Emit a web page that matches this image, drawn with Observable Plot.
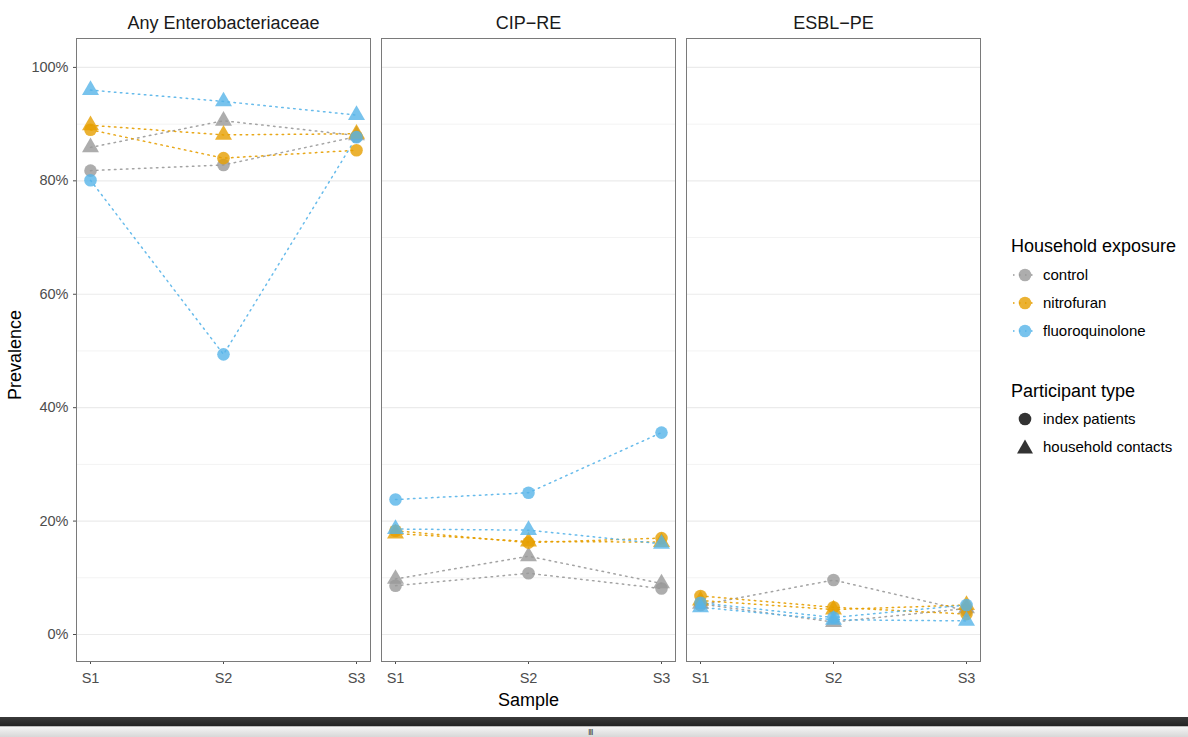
<!DOCTYPE html>
<html>
<head>
<meta charset="utf-8">
<script src="https://cdn.jsdelivr.net/npm/d3@7"></script>
<script src="https://cdn.jsdelivr.net/npm/@observablehq/plot@0.6"></script>
<style>
  body { margin: 0; background: #fff; font-family: "Liberation Sans", Arial, sans-serif; }
  #wrap { position: relative; width: 1188px; height: 737px; overflow: hidden; background: #fff; }
  #chart { position: absolute; left: 0; top: 0; }
  #legend { position: absolute; left: 0; top: 0; width: 1188px; height: 715px; pointer-events: none; }
  .lg-title { position: absolute; font-size: 18px; color: #000; line-height: 20px; white-space: nowrap; }
  .lg-item { position: absolute; font-size: 15px; color: #000; line-height: 20px; white-space: nowrap; display: flex; align-items: center; }
  .lg-item svg { margin-right: 5px; }
  #bar1 { position: absolute; left: 0; top: 717px; width: 1188px; height: 9px; background: linear-gradient(#3a3a3a, #222); }
  #bar2 { position: absolute; left: 0; top: 726px; width: 1188px; height: 11px; background: linear-gradient(#f4f4f4, #d8d8d8); border-top: 1px solid #bbb; box-sizing: border-box; }
  #bar2 span { position: absolute; left: 588px; top: 0px; font-size: 9px; color: #444; letter-spacing: -1px; line-height: 10px; }
</style>
</head>
<body>
<div id="wrap">
  <div id="chart"></div>
  <div id="legend"></div>
  <div id="bar1"></div>
  <div id="bar2"><span>III</span></div>
</div>
<script>
// ---------- data ----------
const panels = ["Any Enterobacteriaceae", "CIP\u2212RE", "ESBL\u2212PE"];
const samples = ["S1", "S2", "S3"];
const exposures = ["control", "nitrofuran", "fluoroquinolone"];
const participantTypes = ["index patients", "household contacts"];
const exposureColors = ["#999999", "#E69F00", "#56B4E9"];
const yTicks = [0, 0.2, 0.4, 0.6, 0.8, 1.0];
const yMinorTicks = [0.1, 0.3, 0.5, 0.7, 0.9];

// prevalence (%) rows: control, nitrofuran, fluoroquinolone; columns: S1, S2, S3
const anyIndex    = [[81.8, 82.8, 87.8], [89.0, 84.0, 85.4], [80.1, 49.4, 87.7]];
const anyContacts = [[85.9, 90.6, 88.0], [89.8, 88.1, 88.3], [96.0, 94.0, 91.6]];
const cipIndex    = [[8.6, 10.8, 8.1], [18.3, 16.2, 17.0], [23.8, 25.0, 35.6]];
const cipContacts = [[9.8, 13.8, 9.0], [17.8, 16.4, 16.3], [18.6, 18.4, 16.0]];
const esblIndex   = [[5.2, 9.6, 4.2], [6.8, 4.8, 3.6], [5.6, 3.0, 5.2]];
const esblContacts= [[5.4, 2.2, 4.6], [6.0, 4.4, 5.2], [4.8, 2.6, 2.4]];

const seriesTable = [
  [panels[0], participantTypes[0], anyIndex],
  [panels[0], participantTypes[1], anyContacts],
  [panels[1], participantTypes[0], cipIndex],
  [panels[1], participantTypes[1], cipContacts],
  [panels[2], participantTypes[0], esblIndex],
  [panels[2], participantTypes[1], esblContacts]
];

const rows = [];
for (const [panel, type, mat] of seriesTable) {
  mat.forEach((vals, i) => vals.forEach((v, j) => rows.push({
    panel, type, exposure: exposures[i], sample: samples[j], value: v / 100
  })));
}
rows.sort((a, b) => exposures.indexOf(a.exposure) - exposures.indexOf(b.exposure));

const font = "'Liberation Sans', Arial, sans-serif";

const chart = Plot.plot({
  width: 1188,
  height: 715,
  marginLeft: 75,
  marginRight: 207,
  marginTop: 38,
  marginBottom: 54,
  style: { fontFamily: font, background: "white", overflow: "visible" },
  fx: { domain: panels, paddingInner: 0.036, paddingOuter: 0, label: null, axis: null },
  x: { type: "point", domain: samples, padding: 0.1, label: null, axis: null },
  y: { domain: [-0.0476, 1.051], label: null, axis: null },
  color: { domain: exposures, range: exposureColors },
  symbol: { domain: participantTypes, range: ["circle", "triangle"] },
  marks: [
    Plot.gridY(yMinorTicks, { stroke: "#f3f3f3", strokeOpacity: 1, strokeWidth: 1 }),
    Plot.gridY(yTicks, { stroke: "#ebebeb", strokeOpacity: 1, strokeWidth: 1.1 }),
    Plot.axisFx({ anchor: "top", tickSize: 0, tickPadding: 10, fontSize: 18, label: null, color: "#1a1a1a" }),
    Plot.axisX({ tickSize: 3, tickPadding: 8, fontSize: 14.5, label: null, color: "#4d4d4d" }),
    Plot.axisY(yTicks, { tickSize: 3, tickPadding: 5, fontSize: 14.5, label: null, color: "#4d4d4d",
      tickFormat: d => Math.round(d * 100) + "%" }),
    Plot.line(rows, {
      fx: "panel", x: "sample", y: "value",
      z: d => d.exposure + "|" + d.type,
      stroke: "exposure", strokeWidth: 1.5, strokeDasharray: "1.5,4.5", strokeOpacity: 0.9
    }),
    Plot.dot(rows, {
      fx: "panel", x: "sample", y: "value",
      fill: "exposure", symbol: "type", r: 6.3, fillOpacity: 0.8, stroke: "none"
    }),
    Plot.frame({ stroke: "#7a7a7a", strokeWidth: 1 }),
    Plot.text(["Sample"], { text: d => d, frameAnchor: "bottom", dy: 44, facet: "super", fontSize: 18, fill: "black" }),
    Plot.text(["Prevalence"], { text: d => d, frameAnchor: "left", textAnchor: "middle", dx: -61, dy: 5, rotate: -90, facet: "super", fontSize: 18, fill: "black" })
  ]
});
document.getElementById("chart").appendChild(chart);

// ---------- legend ----------
const legend = document.getElementById("legend");
function addTitle(text, cy) {
  const d = document.createElement("div");
  d.className = "lg-title";
  d.textContent = text;
  d.style.left = "1011px";
  d.style.top = (cy - 10) + "px";
  legend.appendChild(d);
}
function addItem(label, cy, color, shape, dotted) {
  const d = document.createElement("div");
  d.className = "lg-item";
  d.style.left = "1011px";
  d.style.top = (cy - 10) + "px";
  const ns = "http://www.w3.org/2000/svg";
  const svg = document.createElementNS(ns, "svg");
  svg.setAttribute("width", "27");
  svg.setAttribute("height", "20");
  if (dotted) {
    const ln = document.createElementNS(ns, "line");
    ln.setAttribute("x1", "2"); ln.setAttribute("x2", "26");
    ln.setAttribute("y1", "10"); ln.setAttribute("y2", "10");
    ln.setAttribute("stroke", color);
    ln.setAttribute("stroke-width", "1.5");
    ln.setAttribute("stroke-dasharray", "1.5,4.5");
    svg.appendChild(ln);
  }
  let s;
  if (shape === "circle") {
    s = document.createElementNS(ns, "circle");
    s.setAttribute("cx", "14"); s.setAttribute("cy", "10"); s.setAttribute("r", "6.3");
  } else {
    s = document.createElementNS(ns, "path");
    s.setAttribute("d", "M14,2.5 L22,16.5 L6,16.5 Z");
  }
  s.setAttribute("fill", color);
  s.setAttribute("fill-opacity", dotted ? "0.8" : "1");
  svg.appendChild(s);
  d.appendChild(svg);
  const t = document.createElement("span");
  t.textContent = label;
  d.appendChild(t);
  legend.appendChild(d);
}
addTitle("Household exposure", 246);
exposures.forEach((e, i) => addItem(e, 275 + i * 28, exposureColors[i], "circle", true));
addTitle("Participant type", 391);
participantTypes.forEach((p, i) => addItem(p, 419 + i * 28, "#333333", i === 0 ? "circle" : "triangle", false));
</script>
</body>
</html>
